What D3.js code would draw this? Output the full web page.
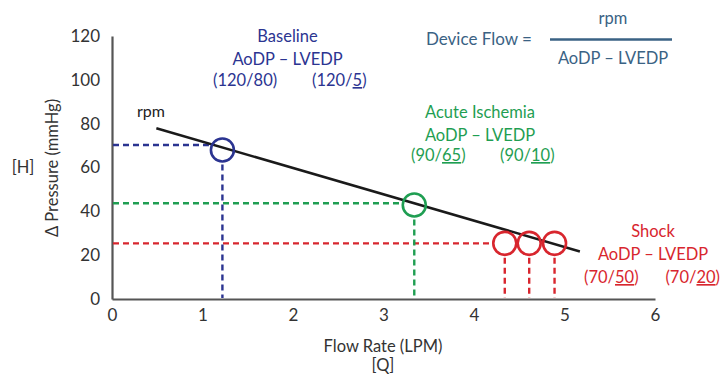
<!DOCTYPE html>
<html><head><meta charset="utf-8">
<script src="https://cdn.jsdelivr.net/npm/d3@7"></script>
<style>
body{margin:0;background:#fff;}
svg text{font-family:Lato,"Open Sans",sans-serif;}
</style></head>
<body><svg id="c" width="723" height="377"></svg>
<script>
// ---- data ----
const xTicks = [0,1,2,3,4,5,6];
const yTicks = [0,20,40,60,80,100,120];
const rpmFlow = [0.49, 5.17];
const rpmPressure = [77.9, 21.7];
const states = ["Baseline","Acute Ischemia","Shock"];
const stateColors = ["#2b3491","#1f9e52","#d8262e"];
const guidePressure = [70.3, 43.7, 25.4];
const pointFlow = [1.22, 3.34, 4.34, 4.61, 4.89];
const pointPressure = [68.0, 42.9, 25.4, 25.4, 25.4];
const pointState = [0, 1, 2, 2, 2];
// [prefix, underlined part, suffix]
const aodpLabels = [["(120/80)","",""],["(90/","65",")"],["(70/","50",")"]];
const lvedpLabels = [["(120/","5",")"],["(90/","10",")"],["(70/","20",")"]];

const svg = d3.select("#c");
const x = d3.scaleLinear().domain([0,6]).range([112,655]);
const y = d3.scaleLinear().domain([0,120]).range([299,36]);
const axisColor = "#555", textColor = "#333";
const FS = "16.5px";

// axes
const gx = svg.append("g").attr("transform","translate(0,299)")
  .call(d3.axisBottom(x).tickValues(xTicks).tickSize(0).tickPadding(10).tickFormat(d3.format("d")));
const gy = svg.append("g").attr("transform","translate(112,0)")
  .call(d3.axisLeft(y).tickValues(yTicks).tickSize(0).tickPadding(12).tickFormat(d3.format("d")));
[gx,gy].forEach(g=>{
  g.select(".domain").attr("stroke",axisColor).attr("stroke-width",2.2);
  g.selectAll("text").attr("fill",textColor).style("font-size","17px").style("font-family",'Lato,"Open Sans",sans-serif');
});

// axis titles
svg.append("text").attr("transform","translate(58,168) rotate(-90)").attr("text-anchor","middle")
  .attr("fill",textColor).style("font-size",FS).text("Δ Pressure (mmHg)");
svg.append("text").attr("x",23).attr("y",173).attr("text-anchor","middle")
  .attr("fill",textColor).style("font-size",FS).text("[H]");
svg.append("text").attr("x",383).attr("y",352).attr("text-anchor","middle")
  .attr("fill",textColor).style("font-size",FS).text("Flow Rate (LPM)");
svg.append("text").attr("x",383).attr("y",371).attr("text-anchor","middle")
  .attr("fill",textColor).style("font-size",FS).text("[Q]");

const r = 11.5;
// guides
states.forEach((s,i)=>{
  const idx = pointState.indexOf(i);
  svg.append("line")
    .attr("x1",x(0)+1).attr("x2",x(pointFlow[idx])-r-2)
    .attr("y1",y(guidePressure[i])).attr("y2",y(guidePressure[i]))
    .attr("stroke",stateColors[i]).attr("stroke-width",2.4).attr("stroke-dasharray","6,4");
});
pointFlow.forEach((f,j)=>{
  svg.append("line")
    .attr("x1",x(f)).attr("x2",x(f))
    .attr("y1",y(pointPressure[j])+r+3).attr("y2",y(0)-1)
    .attr("stroke",stateColors[pointState[j]]).attr("stroke-width",2.4).attr("stroke-dasharray","6,4");
});

// rpm line
svg.append("line")
  .attr("x1",x(rpmFlow[0])).attr("y1",y(rpmPressure[0]))
  .attr("x2",x(rpmFlow[1])).attr("y2",y(rpmPressure[1]))
  .attr("stroke","#1a1a1a").attr("stroke-width",2.5);
svg.append("text").attr("x",137).attr("y",117).attr("fill","#222").style("font-size","16px").text("rpm");

// circles
pointFlow.forEach((f,j)=>{
  svg.append("circle").attr("cx",x(f)).attr("cy",y(pointPressure[j])).attr("r",r)
    .attr("fill","none").attr("stroke",stateColors[pointState[j]]).attr("stroke-width",2.6);
});

// annotations
const ann = [
  {cx:287.5, ys:[42,65,86], a:213, b:312},
  {cx:480, ys:[117.5,140.5,161], a:411, b:500},
  {cx:653, ys:[236.5,259.5,283], a:584, b:669}
];
function ratio(parts, xx, yy, col){
  const t = svg.append("text").attr("x",xx).attr("y",yy).attr("fill",col).style("font-size",FS);
  t.append("tspan").text(parts[0]);
  if (parts[1]) t.append("tspan").style("text-decoration","underline").text(parts[1]);
  if (parts[2]) t.append("tspan").text(parts[2]);
  return t;
}
states.forEach((s,i)=>{
  const a = ann[i], col = stateColors[i];
  svg.append("text").attr("x",a.cx).attr("y",a.ys[0]).attr("text-anchor","middle").attr("fill",col)
    .style("font-size",FS).text(s);
  svg.append("text").attr("x",a.cx).attr("y",a.ys[1]).attr("text-anchor","middle").attr("fill",col)
    .style("font-size",FS).text("AoDP – LVEDP");
  ratio(aodpLabels[i], a.a, a.ys[2], col);
  const t = ratio(lvedpLabels[i], a.b, a.ys[2], col);
  // keep inside the picture
  const bb = t.node().getBBox();
  if (bb.x + bb.width > 720) t.attr("x", a.b - (bb.x + bb.width - 720));
});

// formula
const fc = "#3a6284";
svg.append("text").attr("x",426).attr("y",45).attr("fill",fc).style("font-size","17px").text("Device Flow =");
svg.append("line").attr("x1",550).attr("x2",672).attr("y1",39.5).attr("y2",39.5).attr("stroke",fc).attr("stroke-width",2.7);
svg.append("text").attr("x",613).attr("y",24).attr("text-anchor","middle").attr("fill",fc).style("font-size",FS).text("rpm");
svg.append("text").attr("x",613).attr("y",64).attr("text-anchor","middle").attr("fill",fc).style("font-size",FS).text("AoDP – LVEDP");
</script></body></html>
